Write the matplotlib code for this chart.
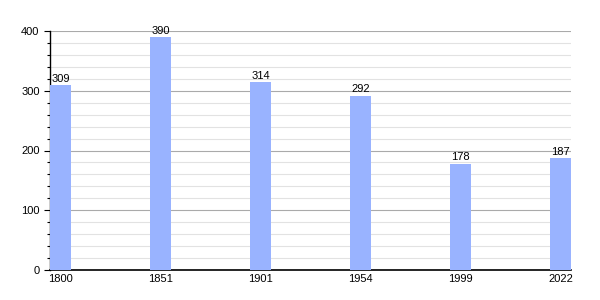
import matplotlib
matplotlib.use('Agg')
import matplotlib.pyplot as plt
from matplotlib.ticker import MultipleLocator

plt.rcParams['font.family'] = ['Liberation Sans', 'DejaVu Sans']

years = ['1800', '1851', '1901', '1954', '1999', '2022']
population = [309, 390, 314, 292, 178, 187]

fig = plt.figure(figsize=(6, 3), dpi=100)
ax = fig.add_axes([50/600, 30/300, 521/600, 239/300])

pos = list(range(len(years)))
ax.bar(pos, population, width=0.21, align='edge', color='#99b3ff', zorder=3)
for p, v in zip(pos, population):
    ax.text(p + 0.105, v + 2, str(v), ha='center', va='bottom', fontsize=8, color='black')

ax.set_xlim(0, 5.21)
ax.set_ylim(0, 400)
ax.set_xticks([p + 0.105 for p in pos])
ax.set_xticklabels(years, fontsize=8)
ax.tick_params(axis='x', length=0, pad=3)
ax.yaxis.set_major_locator(MultipleLocator(100))
ax.yaxis.set_minor_locator(MultipleLocator(20))
ax.tick_params(axis='y', which='major', length=4, labelsize=8, width=0.8)
ax.tick_params(axis='y', which='minor', length=2.5, width=0.8)
ax.grid(axis='y', which='major', color='#aaaaaa', linewidth=0.8, zorder=1)
ax.grid(axis='y', which='minor', color='#e2e2e2', linewidth=0.8, zorder=1)
ax.spines['top'].set_visible(False)
ax.spines['right'].set_visible(False)
ax.spines['left'].set_linewidth(1)
ax.spines['bottom'].set_linewidth(1.2)

fig.savefig('out.png', dpi=100)
